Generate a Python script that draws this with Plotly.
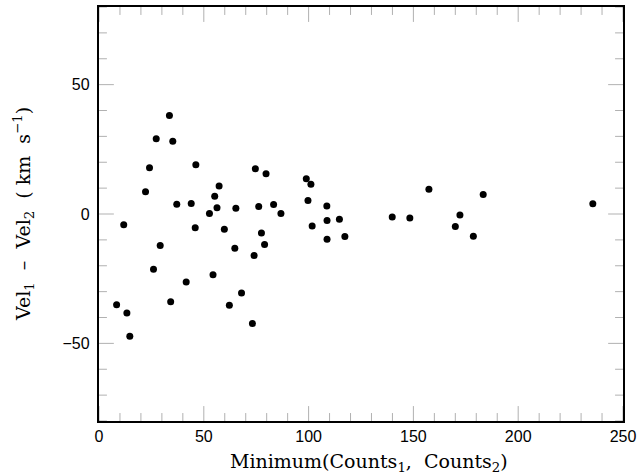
import plotly.graph_objects as go

# Data
min_counts = [22.2, 24.1, 27.3, 33.6, 35.2, 37.1, 44.0, 46.2, 52.7, 55.2,
              57.3, 56.3, 65.3, 74.6, 76.2, 79.7, 83.3, 86.8, 98.9, 101.1,
              99.7, 108.7, 108.8, 114.7, 11.8, 45.9, 59.8, 101.7, 77.5, 29.2,
              64.8, 79.0, 74.0, 108.8, 117.3, 26.0, 41.6, 54.4, 68.0, 34.2,
              62.2, 8.4, 13.3, 14.7, 73.2, 139.9, 148.3, 157.4, 172.2, 170.0,
              178.6, 183.3, 235.6]
vel_diff = [8.6, 17.9, 29.1, 38.1, 28.1, 3.8, 4.1, 19.0, 0.2, 6.9,
            10.8, 2.4, 2.2, 17.5, 2.9, 15.6, 3.7, 0.2, 13.6, 11.5,
            5.2, 3.1, -2.5, -2.0, -4.2, -5.3, -5.9, -4.6, -7.3, -12.2,
            -13.2, -11.8, -16.0, -9.8, -8.7, -21.4, -26.3, -23.5, -30.5, -33.9,
            -35.3, -35.1, -38.3, -47.2, -42.3, -1.2, -1.5, 9.6, -0.4, -4.8,
            -8.6, 7.5, 4.0]
x_range = [0, 250]
y_range = [-80, 80]
major_step = 50
minor_step = 10

sp = "\u00a0"
x_title = "Minimum(Counts<sub>1</sub>, " + sp + "Counts<sub>2</sub>)"
y_title = ("Vel<sub>1</sub>" + sp * 2 + "\u2013" + sp * 2 + "Vel<sub>2</sub>" + sp * 2
           + "(" + sp + "km" + sp * 2 + "s<sup>\u22121</sup>)")

serif = "DejaVu Serif, Liberation Serif, serif"
sans = "Liberation Sans, Arial, sans-serif"

W, H = 641, 475
M = dict(l=99, r=13, t=5, b=54)
plot_w = W - M["l"] - M["r"]
plot_h = H - M["t"] - M["b"]

fig = go.Figure()
fig.add_trace(go.Scatter(
    x=min_counts, y=vel_diff, mode="markers",
    marker=dict(color="black", size=7),
    showlegend=False,
))

fig.update_layout(
    xaxis=dict(
        range=x_range, tick0=0, dtick=major_step,
        showline=True, linecolor="black", linewidth=1.5, mirror=True,
        ticks="", showgrid=False, zeroline=False, ticklabeloverflow="allow",
        tickfont=dict(family=sans, size=16, color="black"),
    ),
    yaxis=dict(
        range=y_range, tick0=0, dtick=major_step,
        showline=True, linecolor="black", linewidth=1.5, mirror=True,
        ticks="", showgrid=False, zeroline=False, ticksuffix=sp,
        tickfont=dict(family=sans, size=16, color="black"),
    ),
)

# inward tick marks on all four sides, positioned through the axis scales
tick_line = dict(color="black", width=1)
shapes = []
for v in range(x_range[0], x_range[1] + 1, minor_step):
    f = (15 if v % major_step == 0 else 8) / plot_h
    shapes.append(dict(type="line", xref="x", yref="paper", x0=v, x1=v, y0=0, y1=f, line=tick_line))
    shapes.append(dict(type="line", xref="x", yref="paper", x0=v, x1=v, y0=1, y1=1 - f, line=tick_line))
for v in range(y_range[0], y_range[1] + 1, minor_step):
    f = (15 if v % major_step == 0 else 8) / plot_w
    shapes.append(dict(type="line", xref="paper", yref="y", x0=0, x1=f, y0=v, y1=v, line=tick_line))
    shapes.append(dict(type="line", xref="paper", yref="y", x0=1, x1=1 - f, y0=v, y1=v, line=tick_line))

fig.add_annotation(
    text=x_title, xref="paper", yref="paper",
    x=0.516, y=-0.100, showarrow=False, xanchor="center", yanchor="middle",
    font=dict(family=serif, size=19, color="black"),
)
fig.add_annotation(
    text=y_title, textangle=-90, xref="paper", yref="paper",
    x=-0.145, y=0.5, showarrow=False, xanchor="center", yanchor="middle",
    font=dict(family=serif, size=19, color="black"),
)

fig.update_layout(
    template="simple_white",
    shapes=shapes,
    width=W, height=H, autosize=False,
    margin=M,
    paper_bgcolor="white", plot_bgcolor="white",
)

fig.write_html("out.html")
